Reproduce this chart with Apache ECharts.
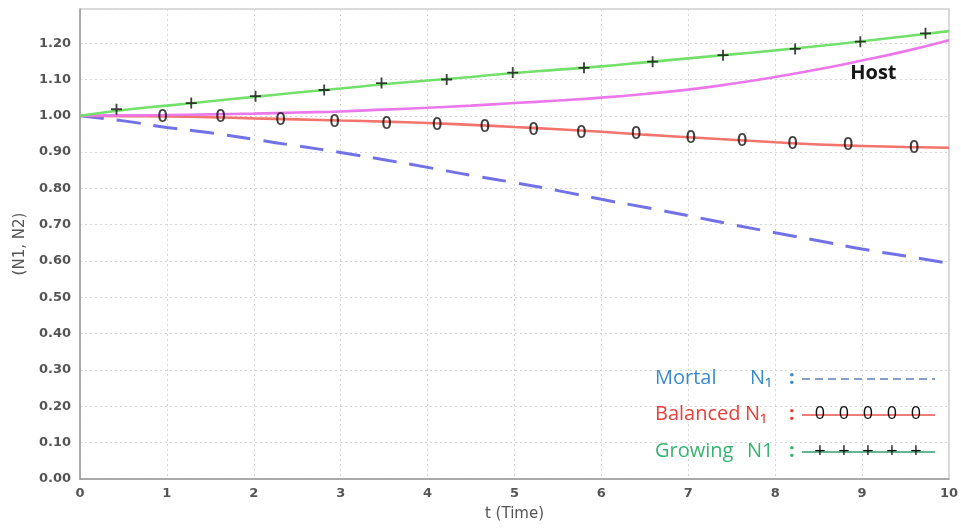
<!DOCTYPE html>
<html>
<head>
<meta charset="utf-8">
<script src="https://cdn.jsdelivr.net/npm/echarts@6/dist/echarts.min.js"></script>
<style>
  html, body { margin: 0; padding: 0; background: #ffffff; }
  #chart { width: 961px; height: 529px; }
</style>
</head>
<body>
<div id="chart"></div>
<script>
// Simulation time grid (t) and population trajectories
const timeSteps = [0, 0.5, 1, 1.5, 2, 2.5, 3, 3.5, 4, 4.5, 5, 5.5, 6, 6.5, 7, 7.5, 8, 8.5, 9, 9.5, 10];
const mortalN1   = [1.000, 0.986, 0.968, 0.953, 0.935, 0.917, 0.899, 0.879, 0.858, 0.836, 0.816, 0.794, 0.770, 0.748, 0.725, 0.701, 0.678, 0.656, 0.633, 0.614, 0.594];
const balancedN1 = [1.000, 0.999, 0.998, 0.996, 0.993, 0.990, 0.987, 0.984, 0.980, 0.975, 0.969, 0.963, 0.956, 0.948, 0.941, 0.934, 0.927, 0.921, 0.917, 0.914, 0.912];
const growingN1  = [1.000, 1.016, 1.028, 1.040, 1.052, 1.064, 1.075, 1.087, 1.097, 1.107, 1.118, 1.127, 1.136, 1.147, 1.158, 1.169, 1.180, 1.192, 1.205, 1.219, 1.233];
const hostN      = [1.000, 1.001, 1.002, 1.004, 1.006, 1.009, 1.012, 1.017, 1.022, 1.028, 1.035, 1.042, 1.050, 1.060, 1.072, 1.088, 1.107, 1.128, 1.152, 1.178, 1.208];

// Sample markers placed along the balanced ("0") and growing ("+") runs
const balancedMarkT = [0.95, 1.62, 2.31, 2.93, 3.53, 4.11, 4.66, 5.22, 5.77, 6.40, 7.03, 7.62, 8.20, 8.84, 9.60];
const balancedMarkV = [0.997, 0.997, 0.988, 0.983, 0.979, 0.976, 0.970, 0.961, 0.953, 0.950, 0.939, 0.931, 0.922, 0.919, 0.913];
const growingMarkT  = [0.42, 1.28, 2.02, 2.81, 3.47, 4.22, 4.98, 5.80, 6.59, 7.40, 8.23, 8.98, 9.73];
const growingMarkV  = [1.018, 1.035, 1.054, 1.071, 1.090, 1.100, 1.119, 1.132, 1.149, 1.167, 1.184, 1.204, 1.227];

// Annotation for the host curve (data coordinates)
const hostLabelAt = [9.13, 1.118];

// Axis ranges and tick spacing
const xRange = [0, 10];
const xStep = 1;
const yRange = [0, 1.294];
const yStep = 0.1;

const pairs = (xs, ys) => xs.map((x, i) => [x, ys[i]]);

const plusPath = 'path://M5,0H7V5H12V7H7V12H5V7H0V5H5Z';

const chart = echarts.init(document.getElementById('chart'), null, { renderer: 'canvas' });

const dottedGrid = { show: true, lineStyle: { color: '#d6d6d6', type: [2, 3], width: 1 } };
const tickFont = { color: '#555', fontFamily: 'DejaVu Sans', fontWeight: 'bold', fontSize: 13 };

// Legend rows drawn as graphics at the lower right of the plot
const legendRows = [
  { name: 'Mortal',   tag: 'N\u2081', tagX: 750, color: '#3a8bcc', y: 378, line: '#5d80b4', dash: [8, 5], mark: null },
  { name: 'Balanced', tag: 'N\u2081', tagX: 745, color: '#e5403c', y: 414, line: '#e8524d', dash: null,   mark: '0' },
  { name: 'Growing',  tag: 'N1',      tagX: 747, color: '#37b272', y: 451, line: '#2f9d70', dash: null,   mark: '+' }
];
const legendMarkX = [820, 844, 868, 892, 916];

const textStyle = (text, x, y, fill, font, align) => ({
  text: text, x: x, y: y, fill: fill, font: font,
  align: align || 'left', textAlign: align || 'left',
  verticalAlign: 'middle', textVerticalAlign: 'middle'
});

const graphics = [];
legendRows.forEach(r => {
  const font = '20px "Open Sans"';
  graphics.push({ type: 'text', silent: true, z: 20, style: textStyle(r.name, 655, r.y, r.color, font) });
  graphics.push({ type: 'text', silent: true, z: 20, style: textStyle(r.tag, r.tagX, r.y, r.color, font) });
  graphics.push({ type: 'text', silent: true, z: 20, style: textStyle(':', 789, r.y, r.color, 'bold 20px "Open Sans"') });
  graphics.push({ type: 'line', silent: true, z: 20,
    shape: { x1: 802, y1: r.y + 1, x2: 935, y2: r.y + 1 },
    style: { stroke: r.line, lineWidth: 1.6, lineDash: r.dash || null } });
  if (r.mark) {
    legendMarkX.forEach(x => {
      graphics.push({ type: 'text', silent: true, z: 21,
        style: textStyle(r.mark, x, r.y, '#111', r.mark === '0' ? '18px "Open Sans"' : '20px "Open Sans"', 'center') });
    });
  }
});

const option = {
  backgroundColor: '#ffffff',
  animation: false,
  grid: { left: 80, right: 8, top: 9, bottom: 50, show: true, borderColor: '#cfcfcf', borderWidth: 1.5, containLabel: false },
  xAxis: {
    type: 'value', min: xRange[0], max: xRange[1], interval: xStep,
    name: 't (Time)', nameLocation: 'middle', nameGap: 28,
    nameTextStyle: { color: '#555', fontFamily: 'DejaVu Sans', fontSize: 15 },
    axisLine: { show: true, onZero: false, lineStyle: { color: '#9a9a9a', width: 1.5 } },
    axisTick: { show: false },
    axisLabel: Object.assign({ margin: 8, formatter: v => String(v) }, tickFont),
    splitLine: dottedGrid
  },
  yAxis: {
    type: 'value', min: yRange[0], max: yRange[1], interval: yStep,
    name: '(N1, N2)', nameLocation: 'middle', nameGap: 47, nameRotate: 90,
    nameTextStyle: { color: '#555', fontFamily: 'DejaVu Sans', fontSize: 15 },
    axisLine: { show: true, lineStyle: { color: '#9a9a9a', width: 1.5 } },
    axisTick: { show: false },
    axisLabel: Object.assign({ margin: 9, showMaxLabel: false, formatter: v => v.toFixed(2) }, tickFont),
    splitLine: dottedGrid
  },
  series: [
    {
      name: 'Mortal N1', type: 'line', data: pairs(timeSteps, mortalN1),
      showSymbol: false, smooth: true, z: 3,
      lineStyle: { color: '#7272e6', width: 3, type: [24, 13] }
    },
    {
      name: 'Balanced N1', type: 'line', data: pairs(timeSteps, balancedN1),
      showSymbol: false, smooth: true, z: 3,
      lineStyle: { color: '#f2746c', width: 2.6 }
    },
    {
      name: 'Host', type: 'line', data: pairs(timeSteps, hostN),
      showSymbol: false, smooth: true, z: 3,
      lineStyle: { color: '#ea78ea', width: 2.6 },
      markPoint: {
        symbol: 'circle', symbolSize: 1, itemStyle: { color: 'rgba(0,0,0,0)' },
        data: [{ coord: hostLabelAt, value: 'Host' }],
        label: { show: true, position: 'inside', formatter: 'Host', color: '#151515',
                 fontFamily: 'Open Sans', fontWeight: 'bold', fontSize: 20 }
      }
    },
    {
      name: 'Growing N1', type: 'line', data: pairs(timeSteps, growingN1),
      showSymbol: false, smooth: true, z: 3,
      lineStyle: { color: '#74e06c', width: 2.6 }
    },
    {
      name: 'Balanced marks', type: 'scatter', data: pairs(balancedMarkT, balancedMarkV),
      symbol: 'circle', symbolSize: 1, itemStyle: { color: 'rgba(0,0,0,0)' }, z: 6, silent: true,
      label: { show: true, position: 'inside', formatter: '0', color: '#111',
               fontFamily: 'Open Sans', fontWeight: 600, fontSize: 18 }
    },
    {
      name: 'Growing marks', type: 'scatter', data: pairs(growingMarkT, growingMarkV),
      symbol: plusPath, symbolSize: 11, itemStyle: { color: '#111' }, z: 6, silent: true
    }
  ],
  graphic: graphics
};

chart.setOption(option);
</script>
</body>
</html>
